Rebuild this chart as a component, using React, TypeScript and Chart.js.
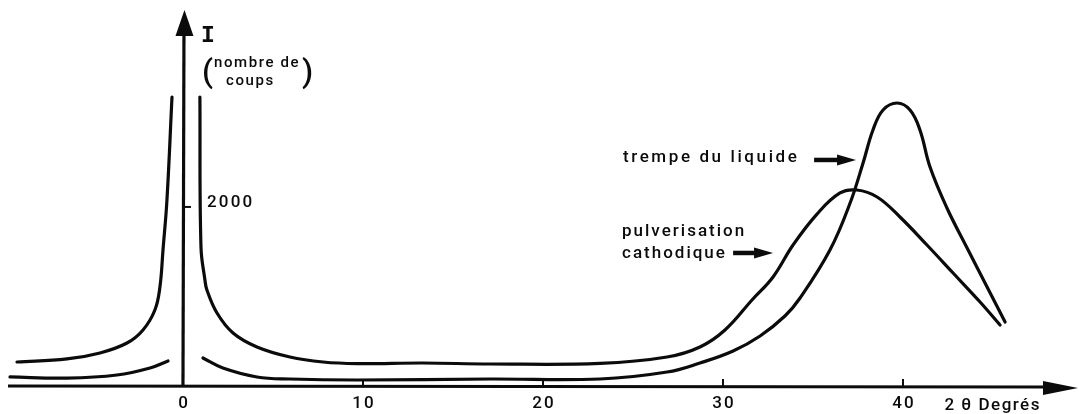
import React, { useEffect, useRef } from "react";
import { Chart, registerables } from "chart.js";

Chart.register(...registerables);

// ---- axis ticks ----
const xTicks = [0, 10, 20, 30, 40];
const yTicks = [2000];
const xAxisTitle = "2 θ Degrés";
const yAxisTitle = "I";
const yAxisSub1 = "nombre de";
const yAxisSub2 = "coups";

// ---- pulverisation cathodique (broad peak) ----
const pulvLeftX = [-9.22, -6.44, -4.61, -3.11, -2.22, -1.56, -1.28, -1.11, -0.89, -0.61];
const pulvLeftY = [268, 302, 369, 480, 626, 849, 1106, 1519, 2078, 3228];
const pulvRightX = [0.94, 1.0, 1.22, 1.33, 1.89, 2.78, 4.11, 5.94, 7.78, 9.67, 13.33, 17.06, 23.17, 26.89, 28.72, 30.11, 31.61, 32.78, 33.89, 35.22, 36.5, 37.44, 38.56, 39.83, 41.33, 42.78, 44.28, 45.39];
const pulvRightY = [3228, 1553, 1184, 1072, 815, 592, 436, 324, 268, 250, 257, 246, 252, 324, 436, 626, 961, 1218, 1575, 1920, 2156, 2189, 2111, 1888, 1575, 1262, 938, 681];

// ---- trempe du liquide (sharp peak) ----
const trempeLeftX = [-9.61, -6.44, -3.67, -1.83, -0.83];
const trempeLeftY = [101, 89, 123, 201, 279];
const trempeRightX = [1.11, 2.22, 4.11, 5.94, 9.67, 17.06, 23.17, 26.89, 28.72, 30.56, 32.06, 33.44, 34.28, 35.94, 37.06, 37.78, 38.33, 38.89, 39.67, 40.39, 40.94, 41.5, 42.44, 43.56, 44.67, 45.67];
const trempeRightY = [313, 201, 101, 78, 67, 78, 78, 156, 257, 391, 559, 782, 983, 1519, 2044, 2491, 2860, 3083, 3161, 3083, 2860, 2446, 1988, 1541, 1106, 715];

const seriesLabels = ["pulverisation cathodique", "trempe du liquide"];

const INK = "#0b0b0b";
const FONT = 'Roboto, "Liberation Sans", Arial, sans-serif';

function branchData(lx: number[], ly: number[], rx: number[], ry: number[]) {
  const out: { x: number; y: number | null }[] = [];
  lx.forEach((x, i) => out.push({ x, y: ly[i] }));
  out.push({ x: 0, y: null });
  rx.forEach((x, i) => out.push({ x, y: ry[i] }));
  return out;
}

function drawArrow(ctx: CanvasRenderingContext2D, x1: number, x2: number, y: number) {
  ctx.save();
  ctx.lineWidth = 4.5;
  ctx.lineCap = "butt";
  ctx.beginPath();
  ctx.moveTo(x1, y);
  ctx.lineTo(x2 - 14, y);
  ctx.stroke();
  ctx.beginPath();
  ctx.moveTo(x2, y);
  ctx.lineTo(x2 - 19, y - 5.5);
  ctx.lineTo(x2 - 19, y + 5.5);
  ctx.closePath();
  ctx.fill();
  ctx.restore();
}

const decorPlugin = {
  id: "decor",
  afterDraw(chart: any) {
    const ctx: CanvasRenderingContext2D = chart.ctx;
    const xs = chart.scales.x;
    const ys = chart.scales.y;
    const x0 = xs.getPixelForValue(0);
    const y0 = ys.getPixelForValue(0);
    ctx.save();
    ctx.strokeStyle = INK;
    ctx.fillStyle = INK;

    // x axis + arrow
    ctx.lineWidth = 3.2;
    ctx.beginPath();
    ctx.moveTo(xs.left, y0);
    ctx.lineTo(xs.right - 30, y0 + 1);
    ctx.stroke();
    ctx.beginPath();
    ctx.moveTo(xs.right, y0 + 2);
    ctx.lineTo(xs.right - 35, y0 - 5);
    ctx.lineTo(xs.right - 35, y0 + 9);
    ctx.closePath();
    ctx.fill();

    // y axis + arrow
    ctx.beginPath();
    ctx.moveTo(x0, y0);
    ctx.lineTo(x0 + 1, ys.top + 20);
    ctx.stroke();
    ctx.beginPath();
    ctx.moveTo(x0 + 1.5, ys.top);
    ctx.lineTo(x0 - 7.5, ys.top + 26);
    ctx.lineTo(x0 + 10.5, ys.top + 26);
    ctx.closePath();
    ctx.fill();

    // x ticks and labels
    (ctx as any).letterSpacing = "2px";
    ctx.font = `500 17px ${FONT}`;
    ctx.textAlign = "center";
    ctx.textBaseline = "alphabetic";
    ctx.lineWidth = 2;
    xTicks.forEach((v) => {
      const px = xs.getPixelForValue(v);
      if (v !== 0) {
        ctx.beginPath();
        ctx.moveTo(px, y0);
        ctx.lineTo(px, y0 - 7);
        ctx.stroke();
      }
      ctx.fillText(String(v), px + 1, y0 + 22);
    });

    // y ticks and labels
    ctx.textAlign = "left";
    (ctx as any).letterSpacing = "2.2px";
    yTicks.forEach((v) => {
      const py = ys.getPixelForValue(v);
      ctx.beginPath();
      ctx.moveTo(x0, py);
      ctx.lineTo(x0 + 8, py);
      ctx.stroke();
      ctx.fillText(String(v), x0 + 24, py);
    });

    // x axis title
    (ctx as any).letterSpacing = "1.5px";
    ctx.font = `500 17px ${FONT}`;
    ctx.fillText(xAxisTitle, xs.getPixelForValue(42.3), y0 + 24);

    // y axis title
    (ctx as any).letterSpacing = "0px";
    ctx.font = `bold 23px "Liberation Mono", "DejaVu Sans Mono", monospace`;
    ctx.textAlign = "center";
    ctx.fillText(yAxisTitle, x0 + 25, ys.top + 32);
    ctx.textAlign = "left";
    ctx.font = `500 32px ${FONT}`;
    ctx.fillText("(", x0 + 19, ys.top + 72);
    ctx.fillText(")", x0 + 119, ys.top + 72);
    ctx.font = `500 15px ${FONT}`;
    (ctx as any).letterSpacing = "1.6px";
    ctx.fillText(yAxisSub1, x0 + 31, ys.top + 57);
    ctx.fillText(yAxisSub2, x0 + 43, ys.top + 75);

    // series annotations
    ctx.font = `500 17px ${FONT}`;
    (ctx as any).letterSpacing = "2.6px";
    ctx.fillText(seriesLabels[1], xs.getPixelForValue(24.44), ys.getPixelForValue(2503));
    drawArrow(ctx, xs.getPixelForValue(35.06), xs.getPixelForValue(37.39), ys.getPixelForValue(2525));
    (ctx as any).letterSpacing = "2.0px";
    const words = seriesLabels[0].split(" ");
    ctx.fillText(words[0], xs.getPixelForValue(24.39), ys.getPixelForValue(1676));
    ctx.fillText(words[1], xs.getPixelForValue(24.39), ys.getPixelForValue(1430));
    drawArrow(ctx, xs.getPixelForValue(30.56), xs.getPixelForValue(32.78), ys.getPixelForValue(1486));

    ctx.restore();
  },
};

export default function App() {
  const ref = useRef<HTMLCanvasElement | null>(null);
  useEffect(() => {
    if (!ref.current) return;
    const common = {
      borderColor: INK,
      borderWidth: 3.2,
      pointRadius: 0,
      fill: false,
      spanGaps: false,
      tension: 0.4,
      borderCapStyle: "round" as const,
      borderJoinStyle: "round" as const,
    };
    const chart = new Chart(ref.current, {
      type: "line",
      data: {
        datasets: [
          { ...common, label: seriesLabels[0], data: branchData(pulvLeftX, pulvLeftY, pulvRightX, pulvRightY) as any },
          { ...common, label: seriesLabels[1], data: branchData(trempeLeftX, trempeLeftY, trempeRightX, trempeRightY) as any },
        ],
      },
      options: {
        animation: false,
        responsive: true,
        maintainAspectRatio: false,
        layout: { padding: { left: 8, right: 1, top: 10, bottom: 28 } },
        plugins: { legend: { display: false }, tooltip: { enabled: false } },
        scales: {
          x: { type: "linear", min: -9.72, max: 49.72, display: false },
          y: { type: "linear", min: 0, max: 4200, display: false },
        },
      },
      plugins: [decorPlugin],
    });
    return () => chart.destroy();
  }, []);
  return (
    <div style={{ position: "fixed", left: 0, top: 0, width: 1079, height: 414, background: "#fff" }}>
      <canvas ref={ref} />
    </div>
  );
}
